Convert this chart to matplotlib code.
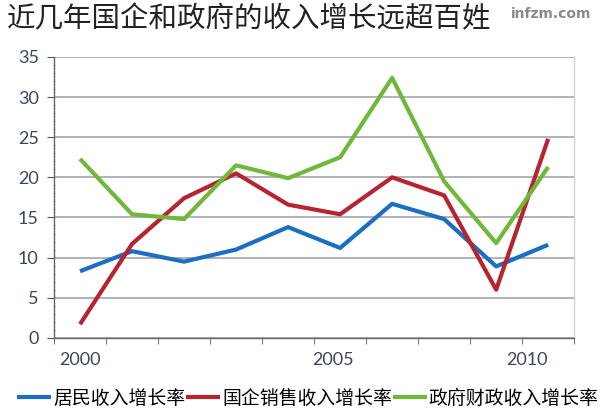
import matplotlib
matplotlib.use("Agg")
import matplotlib.pyplot as plt
from matplotlib.ticker import MultipleLocator, FixedLocator

plt.rcParams['font.family'] = ['Noto Sans CJK SC', 'DejaVu Sans']

# data (10 yearly points)
points = list(range(10))
resident = [8.3, 10.8, 9.5, 11.0, 13.8, 11.2, 16.7, 14.8, 8.9, 11.6]
soe_sales = [1.7, 11.7, 17.4, 20.5, 16.6, 15.4, 20.0, 17.75, 6.0, 24.8]
government = [22.3, 15.4, 14.8, 21.5, 19.9, 22.5, 32.4, 19.5, 11.8, 21.3]

year_labels = ['2000', '2005', '2010']
year_label_pos = [0, 4.87, 8.6]

names = ['居民收入增长率', '国企销售收入增长率', '政府财政收入增长率']
colors = ['#1b6ec2', '#b8232f', '#6fb83a']

fig = plt.figure(figsize=(6, 4.13), dpi=100)
ax = fig.add_axes([0.09, 0.182, 0.867, 0.680])

for vals, name, c in zip([resident, soe_sales, government], names, colors):
    ax.plot(points, vals, color=c, lw=3, label=name, solid_capstyle='butt', zorder=3)

ax.set_xlim(-0.5, 9.5)
ax.set_ylim(0, 35)

ax.yaxis.set_major_locator(MultipleLocator(5))
ax.yaxis.set_minor_locator(MultipleLocator(1))
ax.grid(axis='y', color='#a9adb5', lw=1.3, zorder=1)

ax.set_xticks(year_label_pos)
ax.set_xticklabels(year_labels)
ax.xaxis.set_minor_locator(FixedLocator([i - 0.5 for i in range(11)]))

for lab in ax.get_yticklabels() + ax.get_xticklabels():
    lab.set_fontfamily('Lato')
    lab.set_fontsize(13)
    lab.set_color('#3a4660')

ax.tick_params(axis='x', which='major', length=0, pad=10)
ax.tick_params(axis='x', which='minor', length=4, direction='out', color='#555555')
ax.tick_params(axis='y', which='major', length=5, direction='out', color='#555555', pad=6)
ax.tick_params(axis='y', which='minor', length=2, direction='inout', color='#888888', width=0.6)

for s in ['left', 'bottom']:
    ax.spines[s].set_color('#666666')
    ax.spines[s].set_linewidth(1.0)
ax.spines['top'].set_visible(False)
ax.spines['right'].set_color('#cfd2d6')
ax.spines['right'].set_linewidth(1.0)

fig.text(0.012, 0.952, '近几年国企和政府的收入增长远超百姓', fontsize=20.5,
         color='#222222', va='center', ha='left')
fig.text(0.985, 0.965, 'infzm.com', fontsize=10, fontweight='bold', color='#8a8a8a',
         family='DejaVu Sans', ha='right', va='center')

fig.legend(loc='center', bbox_to_anchor=(0.513, 0.035), ncol=3, frameon=False,
           fontsize=13.6, handlelength=1.8, handletextpad=0.1, columnspacing=0.05,
           borderpad=0, borderaxespad=0)

fig.savefig('out.png', dpi=100)
